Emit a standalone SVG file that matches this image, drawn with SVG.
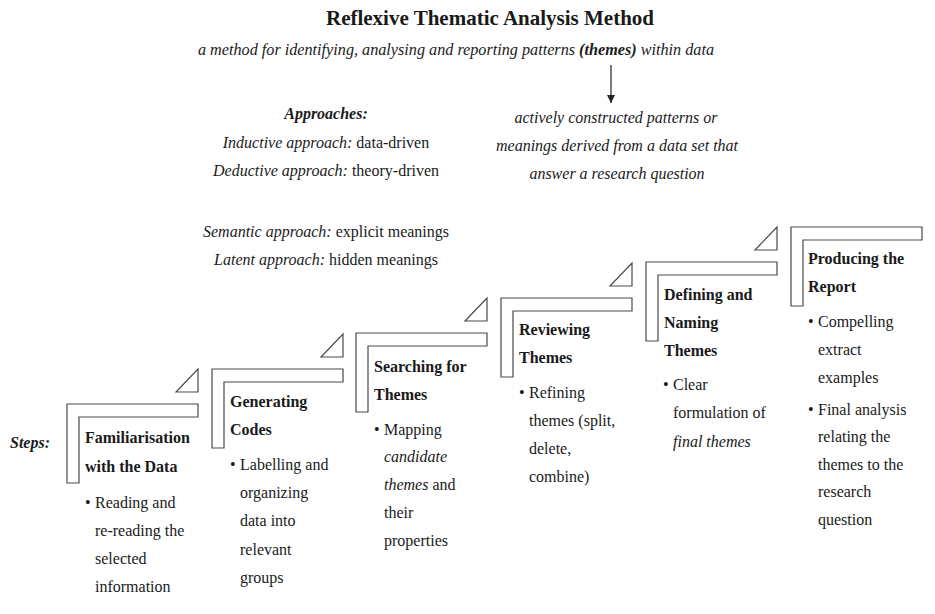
<svg xmlns="http://www.w3.org/2000/svg" width="935" height="614" viewBox="0 0 935 614">
<style>
text{font-family:"Liberation Serif","Times New Roman",serif;font-size:16px;fill:#1a1a1a}
.title{font-size:21px;font-weight:bold}
.sub{font-size:16.2px}
.c{text-anchor:middle}
.it{font-style:italic}
.b{font-weight:bold}
.bi{font-weight:bold;font-style:italic}
.shape{fill:#fff;stroke:#4a4a4a;stroke-width:1.2}
.conn{fill:none;stroke:#222;stroke-width:1.2}
</style>
<defs>
<path id="ell" d="M0,0 H131 V13 H12 V79 H0 Z"/>
<path id="tri" d="M109,-12 L131,-35 L131,-12 Z"/>
<marker id="ah" viewBox="0 0 8 8" refX="8" refY="4" markerWidth="8" markerHeight="8" markerUnits="userSpaceOnUse" orient="auto">
<path d="M0,0 L8,4 L0,8 Z" fill="#222"/>
</marker>
</defs>
<rect width="935" height="614" fill="#fff"/>

<g id="header">
<text class="title c" x="490" y="25">Reflexive Thematic Analysis Method</text>
<text class="it c sub" x="456" y="55">a method for identifying, analysing and reporting patterns <tspan class="bi">(themes)</tspan> within data</text>
</g>

<g id="definition">
<text class="it c" x="616" y="123">actively constructed patterns or</text>
<text class="it c" x="617" y="151">meanings derived from a data set that</text>
<text class="it c" x="617" y="179">answer a research question</text>
</g>

<g id="approaches">
<text class="bi c" x="326" y="119">Approaches:</text>
<text class="c" x="326" y="148"><tspan class="it">Inductive approach:</tspan> data-driven</text>
<text class="c" x="326" y="176"><tspan class="it">Deductive approach:</tspan> theory-driven</text>
<text class="c" x="326" y="237"><tspan class="it">Semantic approach:</tspan> explicit meanings</text>
<text class="c" x="326" y="265"><tspan class="it">Latent approach:</tspan> hidden meanings</text>
</g>

<g id="steps-label">
<text class="bi" x="10" y="448">Steps:</text>
</g>

<g id="connectors">
<line class="conn" x1="611" y1="65" x2="611" y2="103" marker-end="url(#ah)"/>
<use href="#tri" class="shape" x="67" y="404"/>
<use href="#tri" class="shape" x="212" y="369"/>
<use href="#tri" class="shape" x="356" y="333"/>
<use href="#tri" class="shape" x="501" y="298"/>
<use href="#tri" class="shape" x="646" y="262"/>
</g>

<g id="step1">
<use href="#ell" class="shape" x="67" y="404"/>
<text class="b" x="85" y="443">Familiarisation</text>
<text class="b" x="85" y="472">with the Data</text>
<text x="85" y="508">•</text>
<text x="95" y="508">Reading and</text>
<text x="95" y="536">re-reading the</text>
<text x="95" y="564">selected</text>
<text x="95" y="592">information</text>
</g>

<g id="step2">
<use href="#ell" class="shape" x="212" y="369"/>
<text class="b" x="230" y="407">Generating</text>
<text class="b" x="230" y="435">Codes</text>
<text x="230" y="470">•</text>
<text x="240" y="470">Labelling and</text>
<text x="240" y="498">organizing</text>
<text x="240" y="526">data into</text>
<text x="240" y="555">relevant</text>
<text x="240" y="583">groups</text>
</g>

<g id="step3">
<use href="#ell" class="shape" x="356" y="333"/>
<text class="b" x="374" y="372">Searching for</text>
<text class="b" x="374" y="400">Themes</text>
<text x="374" y="435">•</text>
<text x="384" y="435">Mapping</text>
<text class="it" x="384" y="462">candidate</text>
<text x="384" y="490"><tspan class="it">themes</tspan> and</text>
<text x="384" y="518">their</text>
<text x="384" y="546">properties</text>
</g>

<g id="step4">
<use href="#ell" class="shape" x="501" y="298"/>
<text class="b" x="519" y="335">Reviewing</text>
<text class="b" x="519" y="363">Themes</text>
<text x="519" y="398">•</text>
<text x="529" y="398">Refining</text>
<text x="529" y="426">themes (split,</text>
<text x="529" y="454">delete,</text>
<text x="529" y="482">combine)</text>
</g>

<g id="step5">
<use href="#ell" class="shape" x="646" y="262"/>
<text class="b" x="664" y="300">Defining and</text>
<text class="b" x="664" y="328">Naming</text>
<text class="b" x="664" y="356">Themes</text>
<text x="663" y="390">•</text>
<text x="673" y="390">Clear</text>
<text x="673" y="418">formulation of</text>
<text class="it" x="673" y="447">final themes</text>
</g>

<g id="step6">
<use href="#ell" class="shape" x="791" y="227"/>
<text class="b" x="808" y="264">Producing the</text>
<text class="b" x="808" y="292">Report</text>
<text x="808" y="327">•</text>
<text x="818" y="327">Compelling</text>
<text x="818" y="355">extract</text>
<text x="818" y="383">examples</text>
<text x="808" y="415">•</text>
<text x="818" y="415">Final analysis</text>
<text x="818" y="442">relating the</text>
<text x="818" y="470">themes to the</text>
<text x="818" y="497">research</text>
<text x="818" y="525">question</text>
</g>
</svg>
